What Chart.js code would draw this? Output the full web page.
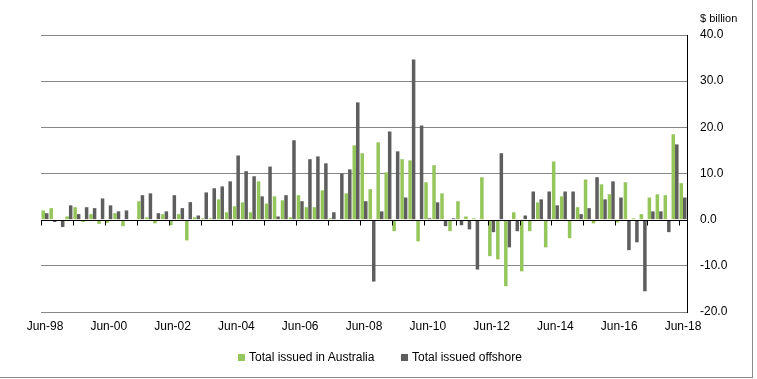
<!DOCTYPE html>
<html>
<head>
<meta charset="utf-8">
<script src="https://cdn.jsdelivr.net/npm/chart.js@4.4.0/dist/chart.umd.min.js"></script>
<style>
  html, body { margin: 0; padding: 0; background: #fff; overflow: hidden; }
  #wrap { position: relative; width: 757px; height: 379px; }
  #frame { position: absolute; left: 0; top: 0; width: 753px; height: 378px; box-sizing: border-box;
           border-right: 1px solid #8a8a8a; border-bottom: 1px solid #8a8a8a; pointer-events: none; }
  #unit { position: absolute; left: 700px; top: 12px; font: 11px "Liberation Sans", Arial, sans-serif; line-height: 13px; color: #000; }
  .leg { position: absolute; top: 350px; font: 12px "Liberation Sans", Arial, sans-serif; line-height: 14px; color: #000; white-space: nowrap; }
  .box { position: absolute; top: 354px; width: 7px; height: 7px; }
</style>
</head>
<body>
<div id="wrap">
  <canvas id="c" width="757" height="379"></canvas>
  <div id="unit">$ billion</div>
  <div class="box" style="left:238px;background:#95c65c"></div>
  <div class="leg" style="left:249px">Total issued in Australia</div>
  <div class="box" style="left:401px;background:#5e5e5e"></div>
  <div class="leg" style="left:412px">Total issued offshore</div>
  <div id="frame"></div>
</div>
<script>
// Quarterly categories Jun-98 .. Jun-18
const quarterMonths = ['Jun', 'Sep', 'Dec', 'Mar'];
const categories = [];
for (let k = 0; k < 81; k++) {
  const yr = (98 + Math.floor((k + 1) / 4)) % 100;
  categories.push(quarterMonths[k % 4] + '-' + String(yr).padStart(2, '0'));
}
const tickLabels = ['Jun-98','Jun-00','Jun-02','Jun-04','Jun-06','Jun-08','Jun-10','Jun-12','Jun-14','Jun-16','Jun-18'];

const issuedAustralia = [
  2.0, 2.5, -0.3, 0.7, 2.7, -0.5, 1.2, -0.9, -0.7, 1.4, -1.4, -0.3,
  4.0, 0.5, -0.8, 1.2, -1.2, 1.2, -4.5, 0.5, 0.3, 0.3, 4.4, 1.6,
  2.9, 3.75, 1.6, 8.3, 3.5, 5.05, 4.2, 0.5, 5.3, 2.7, 2.7, 6.35,
  0.3, 0.0, 5.7, 16.1, 14.4, 6.6, 16.75, 10.25, -2.5, 13.1, 12.85, -4.7,
  8.1, 11.8, 5.7, -2.5, 4.0, 0.7, 0.3, 9.2, -7.9, -8.6, -14.4, 1.6,
  -11.2, -2.5, 3.75, -6.0, 12.6, 5.05, -4.0, 2.7, 8.7, -0.8, 7.65, 5.5,
  -0.6, 8.1, 0.3, 1.2, 4.8, 5.5, 5.3, 18.5, 7.9
];
const issuedOffshore = [
  1.4, -0.5, -1.6, 3.1, 1.2, 2.7, 2.5, 4.6, 3.1, 1.8, 2.0, 0.0,
  5.3, 5.7, 1.4, 1.8, 5.3, 2.5, 3.8, 0.9, 5.9, 6.8, 7.2, 8.3,
  13.9, 10.5, 9.4, 5.05, 11.5, 0.7, 5.3, 17.2, 4.0, 13.1, 13.7, 12.2,
  1.6, 10.0, 10.9, 25.4, 4.0, -13.4, 1.8, 19.1, 14.8, 4.8, 34.7, 20.4,
  0.3, 3.75, -1.4, 0.3, -1.2, -2.1, -10.8, 0.0, -2.7, 14.4, -6.0, -2.5,
  0.9, 6.1, 4.4, 6.1, 3.1, 6.1, 6.1, 1.2, 2.5, 9.2, 4.4, 8.3,
  4.8, -6.6, -4.9, -15.5, 1.8, 1.8, -2.7, 16.3, 4.8
];

const zeroAxis = {
  id: 'zeroAxis',
  afterDatasetsDraw(chart) {
    const { ctx, scales: { x, y } } = chart;
    const y0 = Math.round(y.getPixelForValue(0)) + 0.5;
    const n = chart.data.labels.length;
    const w = (x.right - x.left) / n;
    ctx.save();
    ctx.strokeStyle = '#000';
    ctx.lineWidth = 1;
    ctx.beginPath();
    ctx.moveTo(x.left, y0);
    ctx.lineTo(x.right, y0);
    for (let j = 0; j < n; j += 4) {
      const px = Math.round(x.left + j * w) + 0.5;
      ctx.moveTo(px, y0);
      ctx.lineTo(px, y0 + 5);
    }
    ctx.stroke();
    ctx.restore();
  }
};

const font = { family: '"Liberation Sans", Arial, sans-serif', size: 12 };

new Chart(document.getElementById('c'), {
  type: 'bar',
  data: {
    labels: categories,
    datasets: [
      { label: 'Total issued in Australia', data: issuedAustralia, backgroundColor: '#95c65c', borderWidth: 0 },
      { label: 'Total issued offshore', data: issuedOffshore, backgroundColor: '#5e5e5e', borderWidth: 0 }
    ]
  },
  options: {
    responsive: false,
    animation: false,
    devicePixelRatio: 1,
    layout: { padding: { left: 41, top: 35, right: 0, bottom: 37 } },
    plugins: { legend: { display: false }, tooltip: { enabled: false } },
    datasets: { bar: { categoryPercentage: 0.88, barPercentage: 1.0 } },
    scales: {
      x: {
        grid: { display: false, drawTicks: false },
        border: { display: false },
        afterFit(scale) { scale.height = 30; },
        ticks: {
          autoSkip: false, maxRotation: 0, minRotation: 0, padding: 7,
          color: '#000', font,
          callback(v, i) { const l = categories[i]; return tickLabels.includes(l) ? l : ''; }
        }
      },
      y: {
        position: 'right',
        min: -20, max: 40,
        afterFit(scale) { scale.width = 70; },
        grid: {
          drawTicks: false,
          color: (c) => (c.tick && c.tick.value === 0) ? 'rgba(0,0,0,0)' : '#868686',
          lineWidth: 1
        },
        border: { display: true, color: '#000', width: 1 },
        ticks: {
          stepSize: 10, padding: 13, color: '#000', font,
          callback: (v) => Number(v).toFixed(1)
        }
      }
    }
  },
  plugins: [zeroAxis]
});
</script>
</body>
</html>
